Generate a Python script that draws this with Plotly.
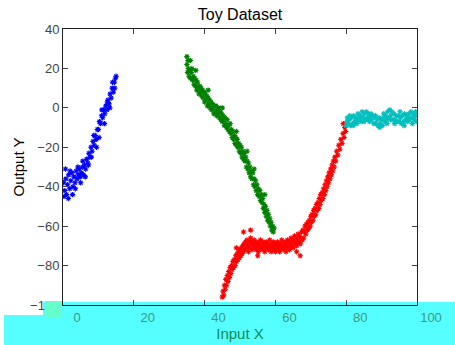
import plotly.graph_objects as go

# ---- data ----
blue_points = [
    (0.2, -38), (0.5, -42), (0.8, -36), (1.0, -44), (1.3, -39), (1.6, -34), (1.9, -41), (2.2, -37),
    (2.5, -33), (2.8, -40), (3.1, -35), (3.4, -38), (3.7, -32), (4.0, -36), (4.3, -34), (4.6, -31),
    (4.9, -35), (5.2, -33), (5.5, -30), (5.8, -34), (6.1, -29), (6.4, -31), (6.7, -26), (7.0, -28),
    (7.3, -23), (7.6, -25), (7.9, -20), (8.2, -22), (8.5, -17), (8.8, -19), (9.1, -14), (9.4, -16),
    (9.7, -11), (10.0, -11), (10.3, -7), (10.6, -8), (10.9, -4), (11.2, -5), (11.5, -1), (11.8, -3),
    (12.1, 1), (12.4, -1), (12.7, 4), (13.0, 2), (13.3, 7), (13.6, 5), (13.9, 10), (14.2, 8),
    (14.5, 13), (14.8, 15),
    (0.3, -45), (0.7, -31), (1.5, -46), (2.0, -32), (2.7, -44), (3.5, -41), (4.2, -30), (5.0, -38),
    (5.6, -27), (6.3, -35), (7.2, -29), (8.0, -25), (8.7, -14), (9.5, -20), (10.2, -15), (11.0, -1),
    (11.7, -8), (12.5, 3), (13.2, 0), (14.0, 13), (14.6, 10), (15.0, 16),
]

green_points = [
    (35.0, 22), (35.2, 18), (35.4, 20), (35.6, 16), (35.8, 19), (36.0, 15), (36.2, 18), (36.4, 20),
    (36.6, 14), (36.8, 16), (37.0, 12), (37.2, 15), (37.4, 11), (37.6, 14), (37.8, 9), (38.0, 13),
    (38.2, 10), (38.4, 7), (38.6, 11), (38.8, 8), (39.0, 10), (39.2, 6), (39.4, 9), (39.6, 5),
    (39.8, 8), (40.0, 3), (40.2, 7), (40.4, 4), (40.6, 6), (40.8, 1), (41.0, 5), (41.2, 2),
    (41.4, 4), (41.6, 0), (41.8, 3), (42.0, -1), (42.2, 2), (42.4, 0), (42.6, -3), (42.8, 1),
    (43.0, -2), (43.2, 1), (43.4, -4), (43.6, -1), (43.8, -3), (44.0, 0), (44.2, -5), (44.4, -2),
    (44.6, -6), (44.8, -3), (45.0, -7), (45.2, -4), (45.4, -6), (45.6, -9), (45.8, -5), (46.0, -8),
    (46.2, -10), (46.4, -6), (46.6, -11), (46.8, -9), (47.0, -12), (47.2, -8), (47.4, -13), (47.6, -11),
    (47.8, -15), (48.0, -12), (48.2, -16), (48.4, -14), (48.6, -18), (48.8, -15), (49.0, -19), (49.2, -16),
    (49.4, -20), (49.6, -18), (49.8, -22), (50.0, -19), (50.2, -23), (50.4, -20), (50.6, -25), (50.8, -22),
    (51.0, -26), (51.2, -23), (51.4, -27), (51.6, -25), (51.8, -30), (52.0, -27), (52.2, -31), (52.4, -28),
    (52.6, -33), (52.8, -30), (53.0, -35), (53.2, -32), (53.4, -36), (53.6, -33), (53.8, -39), (54.0, -36),
    (54.2, -40), (54.4, -37), (54.6, -42), (54.8, -39), (55.0, -44), (55.2, -41), (55.4, -45), (55.6, -42),
    (55.8, -47), (56.0, -44), (56.2, -48), (56.4, -46), (56.6, -51), (56.8, -49), (57.0, -53), (57.2, -50),
    (57.4, -55), (57.6, -52), (57.8, -57), (58.0, -54), (58.2, -58), (58.4, -56), (58.6, -60), (58.8, -58),
    (59.0, -62), (59.2, -60), (59.4, -63), (59.6, -61),
    (35.0, 26), (35.3, 24), (36.0, 24), (37.5, 19), (41.0, 9), (45.0, 0), (49.0, -12), (52.0, -22),
    (54.0, -31), (57.0, -44),
]

red_points = [
    (45.0, -96), (45.2, -93), (45.4, -95), (45.6, -90), (45.8, -92), (46.0, -87), (46.2, -90), (46.4, -85),
    (46.6, -88), (46.8, -83), (47.0, -86), (47.2, -81), (47.4, -84), (47.6, -80), (47.8, -82), (48.0, -78),
    (48.2, -81), (48.4, -77), (48.6, -80), (48.8, -75), (49.0, -78), (49.2, -74), (49.4, -77), (49.6, -73),
    (49.8, -76), (50.0, -72), (50.2, -75), (50.4, -71), (50.6, -74), (50.8, -70), (51.0, -73), (51.2, -69),
    (51.4, -72), (51.6, -68), (51.8, -71), (52.0, -67), (52.2, -70), (52.4, -73), (52.6, -68), (52.8, -71),
    (53.0, -66), (53.2, -69), (53.4, -72), (53.6, -68), (53.8, -70), (54.0, -67), (54.2, -71), (54.4, -69),
    (54.6, -72), (54.8, -68), (55.0, -70), (55.2, -73), (55.4, -69), (55.6, -71), (55.8, -67), (56.0, -70),
    (56.2, -72), (56.4, -68), (56.6, -71), (56.8, -69), (57.0, -73), (57.2, -70), (57.4, -68), (57.6, -71),
    (57.8, -69), (58.0, -72), (58.2, -70), (58.4, -67), (58.6, -71), (58.8, -73), (59.0, -69), (59.2, -71),
    (59.4, -68), (59.6, -72), (59.8, -70), (60.0, -73), (60.2, -69), (60.4, -71), (60.6, -68), (60.8, -72),
    (61.0, -70), (61.2, -73), (61.4, -69), (61.6, -71), (61.8, -67), (62.0, -70), (62.2, -72), (62.4, -68),
    (62.6, -71), (62.8, -69), (63.0, -73), (63.2, -70), (63.4, -67), (63.6, -71), (63.8, -68), (64.0, -72),
    (64.2, -69), (64.4, -66), (64.6, -70), (64.8, -67), (65.0, -71), (65.2, -68), (65.4, -65), (65.6, -69),
    (65.8, -66), (66.0, -70), (66.2, -67), (66.4, -64), (66.6, -68), (66.8, -65), (67.0, -69), (67.2, -66),
    (67.4, -63), (67.6, -67), (67.8, -62), (68.0, -66), (68.2, -63), (68.4, -60), (68.6, -64), (68.8, -59),
    (69.0, -62), (69.2, -58), (69.4, -61), (69.6, -57), (69.8, -60), (70.0, -55), (70.2, -58), (70.4, -54),
    (70.6, -57), (70.8, -52), (71.0, -55), (71.2, -51), (71.4, -54), (71.6, -49), (71.8, -52), (72.0, -48),
    (72.2, -51), (72.4, -46), (72.6, -49), (72.8, -44), (73.0, -47), (73.2, -43), (73.4, -46), (73.6, -41),
    (73.8, -44), (74.0, -39), (74.2, -42), (74.4, -37), (74.6, -40), (74.8, -35), (75.0, -38), (75.2, -33),
    (75.4, -36), (75.6, -31), (75.8, -34), (76.0, -29), (76.2, -32), (76.4, -27), (76.6, -30), (76.8, -25),
    (77.0, -27), (77.3, -22), (77.6, -24), (77.9, -19), (78.2, -21), (78.5, -16), (78.8, -18), (79.1, -13),
    (79.4, -15), (79.6, -10), (79.8, -12),
    (53.0, -62), (51.0, -63), (55.0, -75), (66.0, -73), (67.0, -75), (49.0, -71), (79.2, -8),
]

cyan_points = [
    (80.0, -9), (80.3, -5), (80.6, -8), (80.9, -6), (81.2, -9), (81.5, -5), (81.8, -8), (82.1, -4),
    (82.4, -7), (82.7, -5), (83.0, -8), (83.3, -3), (83.6, -6), (83.9, -4), (84.2, -7), (84.5, -2),
    (84.8, -5), (85.1, -3), (85.4, -6), (85.7, -2), (86.0, -5), (86.3, -3), (86.6, -7), (86.9, -4),
    (87.2, -6), (87.5, -4), (87.8, -8), (88.1, -5), (88.4, -8), (88.7, -6), (89.0, -9), (89.3, -5),
    (89.6, -8), (89.9, -6), (90.2, -9), (90.5, -5), (90.8, -7), (91.1, -4), (91.4, -6), (91.7, -2),
    (92.0, -5), (92.3, -1), (92.6, -4), (92.9, -2), (93.2, -6), (93.5, -3), (93.8, -6), (94.1, -4),
    (94.4, -7), (94.7, -4), (95.0, -7), (95.3, -5), (95.6, -8), (95.9, -4), (96.2, -7), (96.5, -3),
    (96.8, -6), (97.1, -4), (97.4, -7), (97.7, -3), (98.0, -6), (98.3, -2), (98.6, -5), (98.9, -3),
    (99.2, -6), (99.5, -4), (99.8, -7), (100.0, -4),
    (80.2, -7), (81.0, -4), (82.0, -9), (83.2, -6), (84.0, -5), (85.0, -7), (86.2, -6), (87.0, -3),
    (88.3, -4), (89.5, -10), (90.6, -3), (91.5, -8), (92.5, -6), (93.7, -8), (95.2, -2), (96.4, -9),
    (97.5, -5), (98.7, -8), (99.6, -2),
]

series_colors = ["#0000FF", "#008000", "#FF0000", "#00BFBF"]
x_ticks = [0, 20, 40, 60, 80, 100]
y_ticks = [-100, -80, -60, -40, -20, 0, 20, 40]

fig = go.Figure()
for pts, col in zip([blue_points, green_points, red_points, cyan_points], series_colors):
    xs = [p[0] for p in pts]
    ys = [p[1] for p in pts]
    fig.add_trace(go.Scatter(
        x=xs, y=ys, mode="markers", showlegend=False,
        marker=dict(symbol="asterisk-open", size=4.5, color=col,
                    line=dict(color=col, width=1.1)),
    ))

W, H = 455, 345
L, R, T, B = 63, 38, 29, 40
pw, ph = W - L - R, H - T - B

def px(xp):
    return (xp - L) / pw

def py(yp):
    return (H - B - yp) / ph

fig.update_layout(
    width=W, height=H, autosize=False,
    margin=dict(l=L, r=R, t=T, b=B, autoexpand=False),
    paper_bgcolor="white", plot_bgcolor="white",
    font=dict(family="Liberation Sans, Arial, sans-serif", size=12, color="#222"),
    title=dict(text="Toy Dataset", x=240 / W, xanchor="center", xref="container",
               y=1 - 14 / H, yanchor="middle", yref="container", automargin=False,
               font=dict(size=16, color="black")),
    xaxis=dict(range=[0, 100], tickvals=x_ticks, ticks="inside", ticklen=5,
               showline=True, linecolor="#222", linewidth=1, mirror="ticks",
               showgrid=False, zeroline=False, automargin=False,
               tickfont=dict(size=13, color="#3a9a7a"), ticklabelshift=14,
               title=dict(text="Input X", font=dict(size=15, color="#138a5a"), standoff=2)),
    yaxis=dict(range=[-100, 40], tickvals=y_ticks, ticks="inside", ticklen=5,
               showline=True, linecolor="#222", linewidth=1, mirror="ticks",
               showgrid=False, zeroline=False, automargin=False,
               tickfont=dict(size=13, color="#444"),
               title=dict(text="Output Y", font=dict(size=15, color="black"), standoff=1)),
    shapes=[
        dict(type="rect", xref="paper", yref="paper", layer="below",
             x0=px(4), x1=px(455), y0=py(345), y1=py(315),
             fillcolor="#55FFFF", line=dict(width=0)),
        dict(type="rect", xref="paper", yref="paper", layer="below",
             x0=px(43), x1=px(455), y0=py(315), y1=py(302),
             fillcolor="#55FFFF", line=dict(width=0)),
        dict(type="rect", xref="paper", yref="paper", layer="above",
             x0=px(45), x1=px(62), y0=py(317), y1=py(301),
             fillcolor="#66FFCC", line=dict(width=0)),
    ],
)

fig.write_html("out.html", config={"displayModeBar": False},
               post_script="document.body.style.margin='0px';document.body.style.overflow='hidden';")
